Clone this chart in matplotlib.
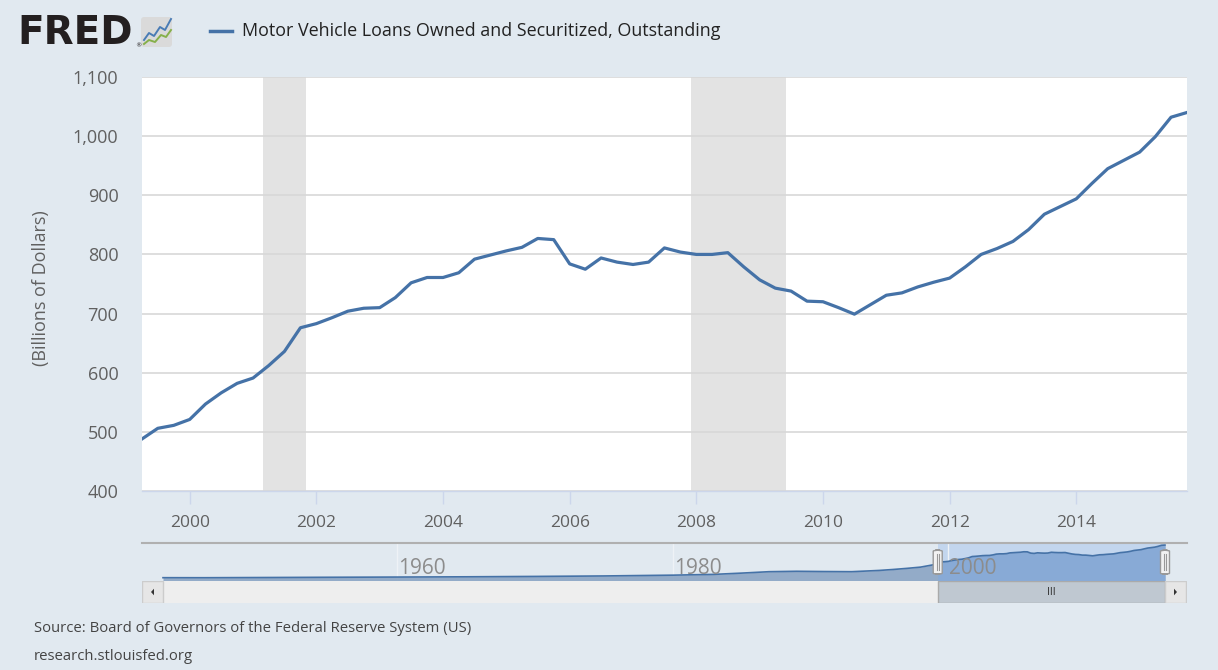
import numpy as np
import pandas as pd
import matplotlib
matplotlib.use('Agg')
import matplotlib.pyplot as plt
from matplotlib.patches import Rectangle, FancyBboxPatch, Polygon
from matplotlib.lines import Line2D

plt.rcParams['font.family'] = ['Open Sans', 'DejaVu Sans']

W, H = 1218, 670

# ---------------- data ----------------
series_name = "Motor Vehicle Loans Owned and Securitized, Outstanding"
dates = pd.date_range('1999-04-01', periods=67, freq='QS')
values = [488, 506, 511,
          521, 547, 566, 582,
          591, 612, 636, 676,
          683, 693, 704, 709,
          710, 727, 752, 761,
          761, 769, 792, 799,
          806, 812, 827, 825,
          784, 775, 794, 787,
          783, 787, 811, 804,
          800, 800, 803, 779,
          757, 743, 738, 721,
          720, 710, 699, 715,
          731, 735, 745, 753,
          760, 779, 800, 810,
          822, 842, 868, 881,
          894, 920, 945, 959,
          973, 999, 1032, 1040]
recessions = [('2001-03-01', '2001-11-01'), ('2007-12-01', '2009-06-01')]

# navigator history before the main window (approximate, read from overview strip)
nav_early_years = [1943, 1946, 1950, 1955, 1960, 1965, 1970, 1975, 1980, 1983,
                   1985, 1987, 1989, 1991, 1993, 1995, 1996, 1997, 1998, 1999]
nav_early_values = [5, 4, 10, 18, 25, 33, 45, 60, 85, 110,
                    150, 195, 208, 200, 195, 235, 265, 300, 340, 420]

y_ticks = [400, 500, 600, 700, 800, 900, 1000, 1100]
x_ticks = [2000, 2002, 2004, 2006, 2008, 2010, 2012, 2014]
nav_ticks = [1960, 1980, 2000]

source_text = "Source: Board of Governors of the Federal Reserve System (US)"
site_text = "research.stlouisfed.org"
y_label = "(Billions of Dollars)"


def dec_year(d):
    d = pd.Timestamp(d)
    n = 366 if d.is_leap_year else 365
    return d.year + (d.dayofyear - 1) / n


x = np.array([dec_year(d) for d in dates])
y = np.array(values, dtype=float)

BG = '#e1e9f0'
LINE = '#4572A7'

fig = plt.figure(figsize=(W / 100, H / 100), dpi=100, facecolor=BG)


def fx(px):
    return px / W


def fy(py):
    return 1 - py / H


def P(px, py):
    return (px / 100, (H - py) / 100)


T = fig.dpi_scale_trans

# ---------------- main axes ----------------
ax = fig.add_axes([fx(142), fy(491), (1187 - 142) / W, (491 - 77) / H])
ax.set_facecolor('white')
for s, e in recessions:
    ax.axvspan(dec_year(s), dec_year(e), color='#e3e3e3', lw=0, zorder=0)
for t in y_ticks:
    ax.axhline(t, color='#d8d8d8', lw=1.2, zorder=1)
ax.plot(x, y, color=LINE, lw=2.3, zorder=3, solid_joinstyle='round')
ax.set_xlim(x[0], x[-1])
ax.set_ylim(400, 1100)
ax.set_yticks(y_ticks)
ax.set_yticklabels([f"{t:,}" for t in y_ticks])
ax.set_xticks(x_ticks)
ax.set_xticklabels([str(t) for t in x_ticks])
ax.tick_params(axis='y', length=0, pad=17, labelsize=13, labelcolor='#606060')
ax.tick_params(axis='x', length=9, width=1, color='#ccd6eb', pad=8,
               labelsize=12.5, labelcolor='#606060')
for sp in ['top', 'left', 'right']:
    ax.spines[sp].set_visible(False)
ax.spines['bottom'].set_color('#ccd6eb')
ax.spines['bottom'].set_linewidth(1)

fig.text(fx(41), fy(288), y_label, rotation=90, ha='center', va='center',
         fontsize=13, color='#606060')

# ---------------- header ----------------
fig.text(fx(17), fy(33), "FRED", fontsize=28, fontweight='bold', color='#231f20',
         ha='left', va='center', family=['DejaVu Sans'])
fig.text(fx(135), fy(46), "®", fontsize=4.5, color='#231f20', ha='left', va='center',
         family=['DejaVu Sans'])
icon = FancyBboxPatch(P(141, 47), 31 / 100, 30 / 100,
                      boxstyle='round,pad=0,rounding_size=0.03',
                      transform=T, fc='#dadada', ec='none')
fig.patches.append(icon)
blue_pts = [(144, 40), (149, 33), (154, 36), (160, 27), (165, 30), (171, 19)]
green_pts = [(144, 44), (149, 40), (155, 42), (161, 35), (166, 37), (171, 30)]
for pts, c in [(blue_pts, '#4a7cb5'), (green_pts, '#86b04a')]:
    xs = [P(a, b)[0] for a, b in pts]
    ys = [P(a, b)[1] for a, b in pts]
    fig.lines.append(Line2D(xs, ys, transform=T, color=c, lw=1.4))

fig.lines.append(Line2D([P(210, 31)[0], P(232, 31)[0]], [P(210, 31)[1]] * 2,
                        transform=T, color=LINE, lw=2.5))
fig.text(fx(242), fy(31), series_name, fontsize=12.85, color='#222222',
         ha='left', va='center')

# ---------------- navigator ----------------
nav_x = np.concatenate([np.array(nav_early_years, float), x])
nav_y = np.concatenate([np.array(nav_early_values, float), y])
d0, d1 = nav_x[0], nav_x[-1]
span = d1 - d0
inner = 1165 - 163
xl0 = d0 - (163 - 142) / inner * span
xl1 = d1 + (1187 - 1165) / inner * span

nav = fig.add_axes([fx(142), fy(581), 1045 / W, 38 / H])
nav.set_facecolor(BG)
nav.set_xlim(xl0, xl1)
nav.set_ylim(-100, 1105)
for sp in nav.spines.values():
    sp.set_visible(False)
nav.set_xticks([])
nav.set_yticks([])
nav.axvspan(x[0], x[-1], color='#c3d6ee', lw=0, zorder=0.5)
for t in nav_ticks:
    nav.axvline(t, color='#eef2f6', lw=1, zorder=1)
nav.fill_between(nav_x, nav_y, -100, color='#8fa8c6', lw=0, zorder=3, alpha=0.95)
sel = nav_x >= x[0]
nav.fill_between(nav_x[sel], nav_y[sel], -100, color='#88aad6', lw=0, zorder=3.5)
nav.plot(nav_x, nav_y, color=LINE, lw=1.2, zorder=4)
for t in nav_ticks:
    nav.text(t + 0.1, 0.33, str(t), transform=nav.get_xaxis_transform(),
             fontsize=15, color='#8c8c8c', ha='left', va='center', zorder=5)
nav.axhline(1105, color='#b0b0b0', lw=1.5, zorder=5, clip_on=False)

# handles
px_per_year = inner / span
for hx in [x[0], x[-1]]:
    hw = 9 / px_per_year
    nav.add_patch(FancyBboxPatch((hx - hw / 2, 0.18), hw, 0.63,
                                 boxstyle='round,pad=0,rounding_size=0.5',
                                 transform=nav.get_xaxis_transform(),
                                 fc='#f2f2f2', ec='#999999', lw=1, zorder=6,
                                 mutation_aspect=0.05))
    for dx in (-1.2, 1.2):
        nav.plot([hx + dx / px_per_year] * 2, [0.3, 0.7], color='#999999', lw=0.8,
                 transform=nav.get_xaxis_transform(), zorder=7)

# ---------------- scrollbar ----------------
sb = fig.add_axes([fx(142), fy(603), 1045 / W, 22 / H])
sb.set_xlim(xl0, xl1)
sb.set_ylim(0, 1)
sb.axis('off')
bw = 21 / px_per_year
sb.add_patch(Rectangle((d0, 0.02), span, 0.96, fc='#eeeeee', ec='#eeeeee', lw=0))
sb.add_patch(Rectangle((x[0], 0.02), x[-1] - x[0], 0.96, fc='#bfc8d1', ec='#aaaaaa', lw=1))
sb.text((x[0] + x[-1]) / 2, 0.5, "III", ha='center', va='center', fontsize=7,
        color='#333333', family=['DejaVu Sans'])
sb.add_patch(Rectangle((xl0, 0.02), bw, 0.96, fc='#e6e6e6', ec='#cccccc', lw=1))
sb.add_patch(Rectangle((d1, 0.02), bw, 0.96, fc='#e6e6e6', ec='#cccccc', lw=1))
aw = 3 / px_per_year
cxl = xl0 + bw / 2
cxr = d1 + bw / 2
sb.add_patch(Polygon([(cxl + aw / 2, 0.35), (cxl + aw / 2, 0.65), (cxl - aw / 2, 0.5)],
                     closed=True, fc='#333333', ec='none'))
sb.add_patch(Polygon([(cxr - aw / 2, 0.35), (cxr - aw / 2, 0.65), (cxr + aw / 2, 0.5)],
                     closed=True, fc='#333333', ec='none'))

# ---------------- footer ----------------
fig.text(fx(34), fy(628), source_text, fontsize=10.7, color='#444444',
         ha='left', va='center')
fig.text(fx(34), fy(656), site_text, fontsize=10.7, color='#444444',
         ha='left', va='center')

fig.savefig('out.png', dpi=100, facecolor=BG)
